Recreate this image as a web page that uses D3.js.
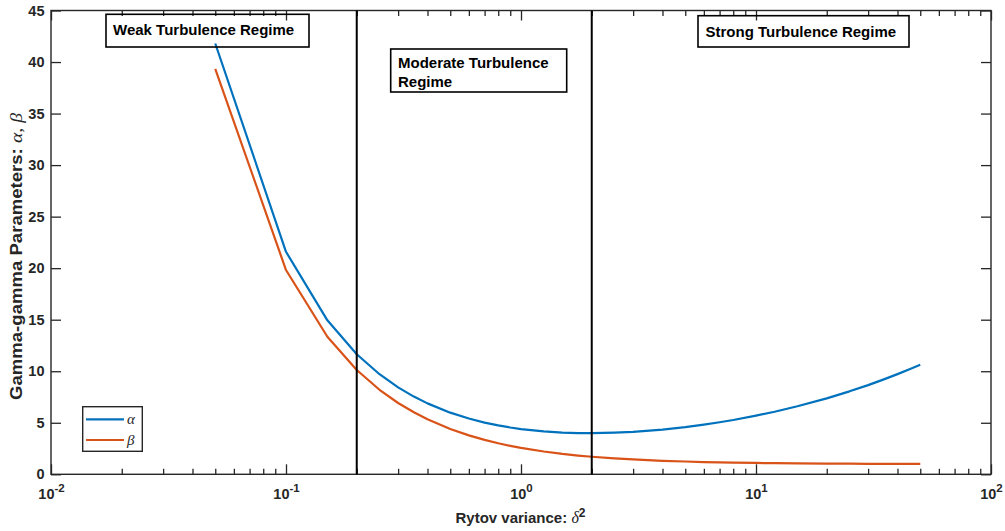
<!DOCTYPE html>
<html>
<head>
<meta charset="utf-8">
<script src="https://cdn.jsdelivr.net/npm/d3@7"></script>
<style>
  html, body { margin: 0; padding: 0; background: #fff; }
  svg { display: block; }
</style>
</head>
<body>
<svg id="chart" width="1005" height="531"></svg>
<script>
// ---- Data ----
const rytov = [0.05, 0.1, 0.15, 0.2, 0.25, 0.3, 0.35, 0.4, 0.5, 0.6, 0.7, 0.8, 0.9, 1, 1.25, 1.5, 1.75, 2, 2.5, 3, 4, 5, 6, 7, 8, 10, 12, 15, 20, 25, 30, 35, 40, 45, 50];
const alphaVals = [41.8, 21.59, 14.94, 11.65, 9.71, 8.43, 7.54, 6.88, 5.98, 5.41, 5.02, 4.74, 4.54, 4.39, 4.16, 4.05, 4.00, 3.99, 4.04, 4.12, 4.34, 4.58, 4.82, 5.05, 5.27, 5.69, 6.07, 6.60, 7.37, 8.05, 8.65, 9.21, 9.72, 10.19, 10.62];
const betaVals  = [39.34, 19.82, 13.35, 10.12, 8.20, 6.92, 6.02, 5.34, 4.40, 3.78, 3.34, 3.01, 2.76, 2.56, 2.21, 1.98, 1.82, 1.70, 1.54, 1.44, 1.31, 1.24, 1.19, 1.16, 1.13, 1.10, 1.08, 1.06, 1.04, 1.03, 1.02, 1.02, 1.02, 1.01, 1.01];
const regimeBounds = [0.2, 2];
const xMajorTicks = [0.01, 0.1, 1, 10, 100];
const xMajorExp = ["-2", "-1", "0", "1", "2"];
const yTicks = [0, 5, 10, 15, 20, 25, 30, 35, 40, 45];
const seriesNames = ["α", "β"];
const regimeLabels = [["Weak Turbulence Regime"], ["Moderate Turbulence", "Regime"], ["Strong Turbulence Regime"]];

// ---- Layout ----
const L = 51, R = 991, T = 10.5, B = 474.3;
const svg = d3.select("#chart");
const x = d3.scaleLog().domain([0.01, 100]).range([L, R]);
const y = d3.scaleLinear().domain([0, 45]).range([B, T]);
const axisColor = "#262626";
const sans = "'Liberation Sans', Arial, Helvetica, sans-serif";
const serif = "'Liberation Serif', 'DejaVu Serif', serif";
const colors = ["#0072BD", "#D95319"];

// minor ticks
const xMinor = [];
for (let e = -2; e < 2; e++) for (let m = 2; m <= 9; m++) xMinor.push(m * Math.pow(10, e));

function styleAxis(g) {
  g.select(".domain").remove();
  g.selectAll(".tick line").attr("stroke", axisColor).attr("stroke-width", 1.3);
}

// bottom axis major with labels
const gBottom = svg.append("g").attr("transform", `translate(0,${B})`)
  .call(d3.axisBottom(x).tickValues(xMajorTicks).tickSize(-10).tickSizeOuter(0).tickFormat(""));
styleAxis(gBottom);
gBottom.selectAll(".tick").each(function(d, i) {
  const t = d3.select(this).append("text")
    .attr("y", 24.5).attr("text-anchor", "middle")
    .attr("fill", axisColor).attr("font-family", sans).attr("font-weight", "bold").attr("font-size", "14.5px");
  t.append("tspan").text("10");
  t.append("tspan").attr("dy", "-7").attr("font-size", "11.5px").text(xMajorExp[i]);
});
const gBottomMinor = svg.append("g").attr("transform", `translate(0,${B})`)
  .call(d3.axisBottom(x).tickValues(xMinor).tickSize(-5.5).tickSizeOuter(0).tickFormat(""));
styleAxis(gBottomMinor);

// top axis
const gTop = svg.append("g").attr("transform", `translate(0,${T})`)
  .call(d3.axisTop(x).tickValues(xMajorTicks).tickSize(-10).tickSizeOuter(0).tickFormat(""));
styleAxis(gTop);
const gTopMinor = svg.append("g").attr("transform", `translate(0,${T})`)
  .call(d3.axisTop(x).tickValues(xMinor).tickSize(-5.5).tickSizeOuter(0).tickFormat(""));
styleAxis(gTopMinor);

// left axis
const gLeft = svg.append("g").attr("transform", `translate(${L},0)`)
  .call(d3.axisLeft(y).tickValues(yTicks).tickSize(-10).tickSizeOuter(0).tickFormat(d3.format("d")));
styleAxis(gLeft);
gLeft.selectAll(".tick text").attr("fill", axisColor).attr("font-family", sans)
  .attr("font-weight", "bold").attr("font-size", "14.5px").attr("x", -6.5);

// right axis
const gRight = svg.append("g").attr("transform", `translate(${R},0)`)
  .call(d3.axisRight(y).tickValues(yTicks).tickSize(-10).tickSizeOuter(0).tickFormat(""));
styleAxis(gRight);

// frame
svg.append("rect").attr("x", L).attr("y", T).attr("width", R - L).attr("height", B - T)
  .attr("fill", "none").attr("stroke", axisColor).attr("stroke-width", 1.4);

// series lines
const line = d3.line().x(d => x(d[0])).y(d => y(d[1]));
[alphaVals, betaVals].forEach((vals, i) => {
  svg.append("path").datum(rytov.map((r, k) => [r, vals[k]]))
    .attr("d", line).attr("fill", "none").attr("stroke", colors[i]).attr("stroke-width", 2.2)
    .attr("stroke-linejoin", "round");
});

// regime boundary lines
regimeBounds.forEach(b => {
  svg.append("line").attr("x1", x(b)).attr("x2", x(b)).attr("y1", y(0)).attr("y2", y(45))
    .attr("stroke", "#000").attr("stroke-width", 2);
});

// annotation boxes
const boxes = [
  { x0: 106, y0: 14.3, x1: 309, y1: 47, tx: 113, ty: [35] },
  { x0: 390.7, y0: 49, x1: 566.7, y1: 92, tx: 398, ty: [68, 87] },
  { x0: 698, y0: 15.7, x1: 909, y1: 47, tx: 705.5, ty: [36.5] }
];
boxes.forEach((b, i) => {
  svg.append("rect").attr("x", b.x0).attr("y", b.y0).attr("width", b.x1 - b.x0).attr("height", b.y1 - b.y0)
    .attr("fill", "none").attr("stroke", "#000").attr("stroke-width", 1.6);
  regimeLabels[i].forEach((txt, j) => {
    svg.append("text").attr("x", b.tx).attr("y", b.ty[j]).text(txt)
      .attr("font-family", sans).attr("font-weight", "bold").attr("font-size", "15px").attr("fill", "#000");
  });
});

// legend
const lg = svg.append("g");
lg.append("rect").attr("x", 82.7).attr("y", 406.7).attr("width", 59.6).attr("height", 44.6)
  .attr("fill", "#fff").attr("stroke", axisColor).attr("stroke-width", 1.4);
seriesNames.forEach((n, i) => {
  const yy = 419.3 + i * 20.7;
  lg.append("line").attr("x1", 86).attr("x2", 124).attr("y1", yy).attr("y2", yy)
    .attr("stroke", colors[i]).attr("stroke-width", 2.2);
  lg.append("text").attr("x", 127).attr("y", yy + 4.5).text(n)
    .attr("font-family", serif).attr("font-style", "italic").attr("font-size", "15px").attr("fill", axisColor);
});

// axis labels
const xl = svg.append("text").attr("x", 520.5).attr("y", 523).attr("text-anchor", "middle")
  .attr("fill", axisColor).attr("font-family", sans).attr("font-weight", "bold").attr("font-size", "15px");
xl.append("tspan").text("Rytov variance: ");
xl.append("tspan").attr("font-family", serif).attr("font-style", "italic").attr("font-weight", "normal").attr("font-size", "16px").text("δ");
xl.append("tspan").attr("dy", "-6.5").attr("font-size", "12px").text("2");

const yl = svg.append("text").attr("text-anchor", "middle")
  .attr("fill", axisColor).attr("font-family", sans).attr("font-weight", "bold").attr("font-size", "16px");
yl.append("tspan").text("Gamma-gamma Parameters: ");
yl.append("tspan").attr("font-family", serif).attr("font-style", "italic").attr("font-weight", "normal").attr("font-size", "17px").text("α, β");
// stretch to the label length seen in the reference (≈287px along the axis)
const ylLen = yl.node().getComputedTextLength();
const ylScale = 287 / ylLen;
yl.attr("transform", `translate(22,256.5) rotate(-90) scale(${ylScale},1)`);
</script>
</body>
</html>
